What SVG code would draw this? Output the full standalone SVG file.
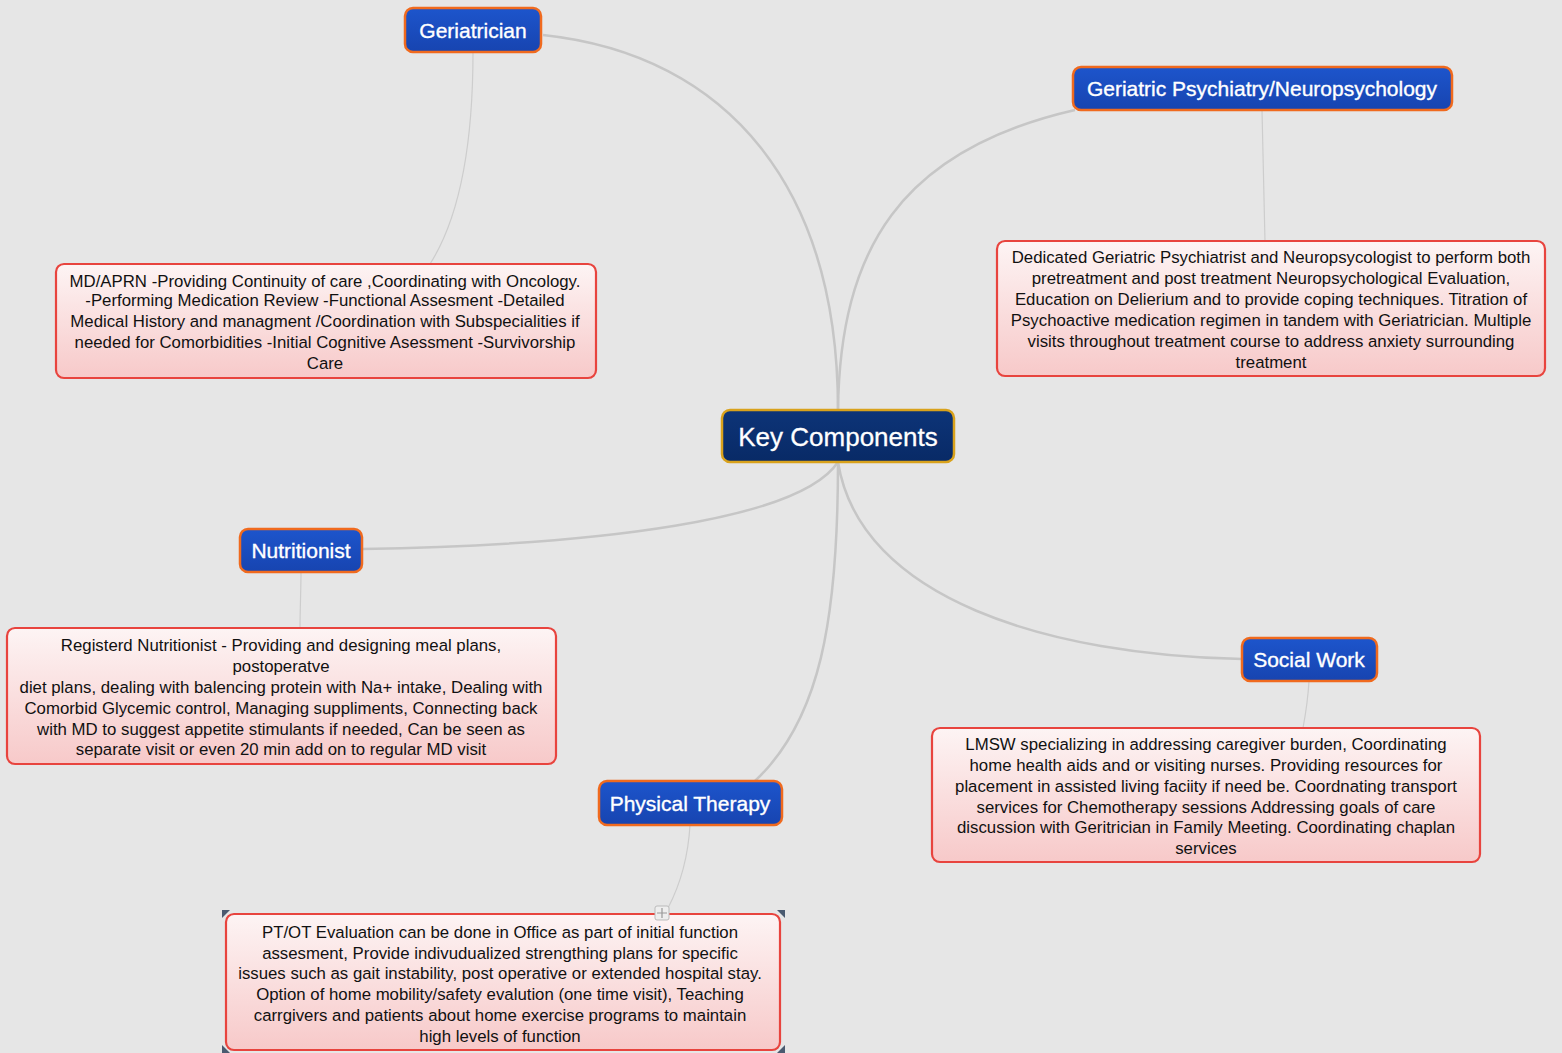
<svg xmlns="http://www.w3.org/2000/svg" width="1562" height="1053" viewBox="0 0 1562 1053">
<defs>
<linearGradient id="blueG" x1="0" y1="0" x2="0" y2="1"><stop offset="0" stop-color="#1d55cc"/><stop offset="1" stop-color="#1744b0"/></linearGradient>
<linearGradient id="navyG" x1="0" y1="0" x2="0" y2="1"><stop offset="0" stop-color="#0d3478"/><stop offset="1" stop-color="#082a66"/></linearGradient>
<linearGradient id="pinkG" x1="0" y1="0" x2="0" y2="1"><stop offset="0" stop-color="#fdf4f4"/><stop offset="1" stop-color="#f7c9c9"/></linearGradient>
<style>
.main{fill:none;stroke:#c6c6c6;stroke-width:2.5}
.thin{fill:none;stroke:#cdcdcd;stroke-width:1.2}
.topic rect{fill:url(#blueG);stroke:#f06a1e;stroke-width:2.5}
.topic text{fill:#fff;stroke:#fff;stroke-width:0.35;font-family:"Liberation Sans",Arial,sans-serif;font-size:21px;text-anchor:middle}
.central rect{fill:url(#navyG);stroke:#d9a21c;stroke-width:2.5}
.central text{fill:#fff;stroke:#fff;stroke-width:0.3;font-family:"Liberation Sans",Arial,sans-serif;font-size:26px;text-anchor:middle}
.note rect{fill:url(#pinkG);stroke:#e8443e;stroke-width:2.2}
.note text{fill:#111;font-family:"Liberation Sans",Arial,sans-serif;font-size:16.8px;text-anchor:middle}
.handle{fill:#4a5a70}
</style>
</defs>
<rect width="1562" height="1053" fill="#e6e6e6"/>
<g id="connectors">
<path class="main" d="M838,410 C838,190 730,55 543,35"/>
<path class="main" d="M838,410 C840,250 900,150 1075,110"/>
<path class="main" d="M838,462 C800,520 600,545 362,549"/>
<path class="main" d="M838,462 C860,600 1050,655 1242,659"/>
<path class="main" d="M838,462 C838,620 820,720 755,781"/>
<path class="thin" d="M473,52 C473,150 458,220 430,264"/>
<path class="thin" d="M1262,110 C1263,160 1264,200 1265,241"/>
<path class="thin" d="M301,572 C301,590 300,610 300,628"/>
<path class="thin" d="M1309,681 C1308,698 1306,712 1303,728"/>
<path class="thin" d="M690,825 C688,860 680,885 668,908"/>
</g>
<g id="central" class="central">
<rect x="722" y="410" width="232" height="52" rx="8"/>
<text x="838" y="446">Key Components</text>
</g>
<g id="geriatrician" class="topic">
<rect x="405" y="8" width="136" height="44" rx="8"/>
<text x="473" y="38">Geriatrician</text>
</g>
<g id="psychiatry" class="topic">
<rect x="1073" y="67" width="379" height="43" rx="8"/>
<text x="1262" y="96">Geriatric Psychiatry/Neuropsychology</text>
</g>
<g id="nutritionist" class="topic">
<rect x="240" y="529" width="122" height="43" rx="8"/>
<text x="301" y="558">Nutritionist</text>
</g>
<g id="socialwork" class="topic">
<rect x="1242" y="638" width="135" height="43" rx="8"/>
<text x="1309" y="667">Social Work</text>
</g>
<g id="physicaltherapy" class="topic">
<rect x="599" y="781" width="183" height="44" rx="8"/>
<text x="690" y="811">Physical Therapy</text>
</g>
<g id="geriatrician-note" class="note">
<rect x="56" y="264" width="540" height="114" rx="8"/>
<text x="325" y="287">MD/APRN -Providing Continuity of care ,Coordinating with Oncology.</text>
<text x="325" y="306">-Performing Medication Review -Functional Assesment -Detailed</text>
<text x="325" y="327">Medical History and managment /Coordination with Subspecialities if</text>
<text x="325" y="348">needed for Comorbidities -Initial Cognitive Asessment -Survivorship</text>
<text x="325" y="369">Care</text>
</g>
<g id="psychiatry-note" class="note">
<rect x="997" y="241" width="548" height="135" rx="8"/>
<text x="1271" y="263">Dedicated Geriatric Psychiatrist and Neuropsycologist to perform both</text>
<text x="1271" y="284">pretreatment and post treatment Neuropsychological Evaluation,</text>
<text x="1271" y="305">Education on Delierium and to provide coping techniques. Titration of</text>
<text x="1271" y="326">Psychoactive medication regimen in tandem with Geriatrician. Multiple</text>
<text x="1271" y="347">visits throughout treatment course to address anxiety surrounding</text>
<text x="1271" y="368">treatment</text>
</g>
<g id="nutritionist-note" class="note">
<rect x="7" y="628" width="549" height="136" rx="8"/>
<text x="281" y="651">Registerd Nutritionist - Providing and designing meal plans,</text>
<text x="281" y="672">postoperatve</text>
<text x="281" y="693">diet plans, dealing with balencing protein with Na+ intake, Dealing with</text>
<text x="281" y="714">Comorbid Glycemic control, Managing suppliments, Connecting back</text>
<text x="281" y="735">with MD to suggest appetite stimulants if needed, Can be seen as</text>
<text x="281" y="755">separate visit or even 20 min add on to regular MD visit</text>
</g>
<g id="socialwork-note" class="note">
<rect x="932" y="728" width="548" height="134" rx="8"/>
<text x="1206" y="750">LMSW specializing in addressing caregiver burden, Coordinating</text>
<text x="1206" y="771">home health aids and or visiting nurses. Providing resources for</text>
<text x="1206" y="792">placement in assisted living faciity if need be. Coordnating transport</text>
<text x="1206" y="813">services for Chemotherapy sessions Addressing goals of care</text>
<text x="1206" y="833">discussion with Geritrician in Family Meeting. Coordinating chaplan</text>
<text x="1206" y="854">services</text>
</g>
<g id="physicaltherapy-note" class="note">
<rect x="226" y="914" width="554" height="136" rx="8"/>
<text x="500" y="938">PT/OT Evaluation can be done in Office as part of initial function</text>
<text x="500" y="959">assesment, Provide indivudualized strengthing plans for specific</text>
<text x="500" y="979">issues such as gait instability, post operative or extended hospital stay.</text>
<text x="500" y="1000">Option of home mobility/safety evalution (one time visit), Teaching</text>
<text x="500" y="1021">carrgivers and patients about home exercise programs to maintain</text>
<text x="500" y="1042">high levels of function</text>
</g>
<g id="selection">
<path class="handle" d="M222,910 h8 l-8,8 z"/>
<path class="handle" d="M785,910 h-8 l8,8 z"/>
<path class="handle" d="M222,1053 v-8 l8,8 z"/>
<path class="handle" d="M785,1053 v-8 l-8,8 z"/>
<rect x="655" y="906" width="14" height="14" rx="2" fill="#eeeeee" stroke="#bbbbbb" stroke-width="1"/>
<path d="M662,908 v10 M657,913 h10" stroke="#999" stroke-width="1.2"/>
</g>
</svg>
